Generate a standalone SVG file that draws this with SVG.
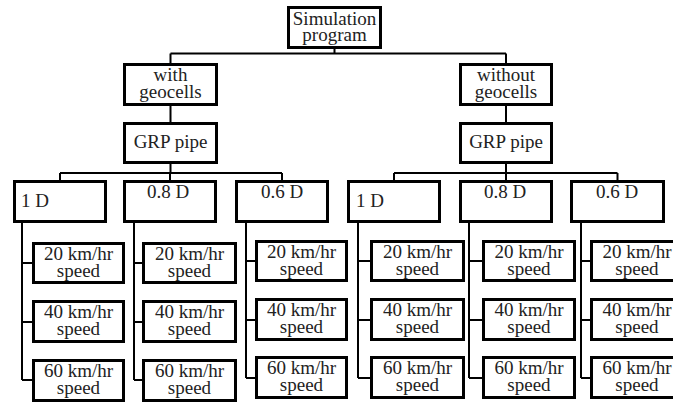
<svg xmlns="http://www.w3.org/2000/svg" width="673" height="403" viewBox="0 0 673 403" font-family="'Liberation Serif', 'DejaVu Serif', serif">
<style>
.b{fill:#fff;stroke:#000;stroke-width:3}
.c{fill:none;stroke:#000;stroke-width:2}
text{font-family:'Liberation Serif','DejaVu Serif',serif;font-size:19px;fill:#222;text-anchor:middle}
text.l{text-anchor:start}
</style>
<rect width="673" height="403" fill="#fff"/>
<g id="connectors">
<path class="c" d="M334.5 49V53.5M170.5 53.5H506M170.5 53.5V63M506 53.5V63"/>
<path class="c" d="M170.5 106V122M506 106V122"/>
<path class="c" d="M170.5 164V173M60 173H282M60 173V180M170 173V180M282 173V180"/>
<path class="c" d="M506 164V173M394 173H617.5M394 173V180M506 173V180M617.5 173V180"/>
<path class="c" d="M22 223V380M22 263H32M22 322H32M22 380H32"/>
<path class="c" d="M134 223V380M134 263H142M134 322H142M134 380H142"/>
<path class="c" d="M246 223V378M246 261H255M246 320H255M246 378H255"/>
<path class="c" d="M358 223V378M358 261H370M358 320H370M358 378H370"/>
<path class="c" d="M469 223V378M469 261H482M469 320H482M469 378H482"/>
<path class="c" d="M581 223V378M581 261H590M581 320H590M581 378H590"/>
</g>
<g id="sim"><rect class="b" x="288.5" y="7.5" width="92" height="40"/><text x="334.5" y="25">Simulation<tspan x="334.5" dy="16">program</tspan></text></g>
<g id="with"><rect class="b" x="124.5" y="64.5" width="92" height="40"/><text x="170.5" y="81">with<tspan x="170.5" dy="17">geocells</tspan></text></g>
<g id="without"><rect class="b" x="460.5" y="64.5" width="91" height="40"/><text x="506" y="81">without<tspan x="506" dy="17">geocells</tspan></text></g>
<g id="grpL"><rect class="b" x="124.5" y="123.5" width="92" height="39"/><text x="170.5" y="148">GRP pipe</text></g>
<g id="grpR"><rect class="b" x="460.5" y="123.5" width="91" height="39"/><text x="506" y="148">GRP pipe</text></g>
<g id="L1D"><rect class="b" x="14.5" y="181.5" width="91" height="40"/><text class="l" x="21" y="207">1 D</text></g>
<g id="L08D"><rect class="b" x="124.5" y="181.5" width="91" height="40"/><text x="168" y="198">0.8 D</text></g>
<g id="L06D"><rect class="b" x="236.5" y="181.5" width="91" height="40"/><text x="282" y="198">0.6 D</text></g>
<g id="R1D"><rect class="b" x="348.5" y="181.5" width="91" height="40"/><text class="l" x="356" y="207">1 D</text></g>
<g id="R08D"><rect class="b" x="460.5" y="181.5" width="91" height="40"/><text x="505" y="198">0.8 D</text></g>
<g id="R06D"><rect class="b" x="571.5" y="181.5" width="92" height="40"/><text x="617" y="198">0.6 D</text></g>
<g id="L1s20"><rect class="b" x="33.5" y="243.5" width="90" height="39"/><text x="78.5" y="260">20 km/hr<tspan x="78.5" dy="17">speed</tspan></text></g>
<g id="L1s40"><rect class="b" x="33.5" y="301.5" width="90" height="40"/><text x="78.5" y="318">40 km/hr<tspan x="78.5" dy="17">speed</tspan></text></g>
<g id="L1s60"><rect class="b" x="33.5" y="360.5" width="90" height="40"/><text x="78.5" y="377">60 km/hr<tspan x="78.5" dy="17">speed</tspan></text></g>
<g id="L2s20"><rect class="b" x="143.5" y="243.5" width="92" height="39"/><text x="189.5" y="260">20 km/hr<tspan x="189.5" dy="17">speed</tspan></text></g>
<g id="L2s40"><rect class="b" x="143.5" y="301.5" width="92" height="40"/><text x="189.5" y="318">40 km/hr<tspan x="189.5" dy="17">speed</tspan></text></g>
<g id="L2s60"><rect class="b" x="143.5" y="360.5" width="92" height="40"/><text x="189.5" y="377">60 km/hr<tspan x="189.5" dy="17">speed</tspan></text></g>
<g id="L3s20"><rect class="b" x="256.5" y="241.5" width="90" height="39"/><text x="301.5" y="258">20 km/hr<tspan x="301.5" dy="17">speed</tspan></text></g>
<g id="L3s40"><rect class="b" x="256.5" y="299.5" width="90" height="40"/><text x="301.5" y="316">40 km/hr<tspan x="301.5" dy="17">speed</tspan></text></g>
<g id="L3s60"><rect class="b" x="256.5" y="357.5" width="90" height="40"/><text x="301.5" y="374">60 km/hr<tspan x="301.5" dy="17">speed</tspan></text></g>
<g id="R1s20"><rect class="b" x="371.5" y="241.5" width="92" height="39"/><text x="417.5" y="258">20 km/hr<tspan x="417.5" dy="17">speed</tspan></text></g>
<g id="R1s40"><rect class="b" x="371.5" y="299.5" width="92" height="40"/><text x="417.5" y="316">40 km/hr<tspan x="417.5" dy="17">speed</tspan></text></g>
<g id="R1s60"><rect class="b" x="371.5" y="357.5" width="92" height="40"/><text x="417.5" y="374">60 km/hr<tspan x="417.5" dy="17">speed</tspan></text></g>
<g id="R2s20"><rect class="b" x="483.5" y="241.5" width="91" height="39"/><text x="529" y="258">20 km/hr<tspan x="529" dy="17">speed</tspan></text></g>
<g id="R2s40"><rect class="b" x="483.5" y="299.5" width="91" height="40"/><text x="529" y="316">40 km/hr<tspan x="529" dy="17">speed</tspan></text></g>
<g id="R2s60"><rect class="b" x="483.5" y="357.5" width="91" height="40"/><text x="529" y="374">60 km/hr<tspan x="529" dy="17">speed</tspan></text></g>
<g id="R3s20"><rect class="b" x="591.5" y="241.5" width="91" height="39"/><text x="637" y="258">20 km/hr<tspan x="637" dy="17">speed</tspan></text></g>
<g id="R3s40"><rect class="b" x="591.5" y="299.5" width="91" height="40"/><text x="637" y="316">40 km/hr<tspan x="637" dy="17">speed</tspan></text></g>
<g id="R3s60"><rect class="b" x="591.5" y="357.5" width="91" height="40"/><text x="637" y="374">60 km/hr<tspan x="637" dy="17">speed</tspan></text></g>
</svg>
